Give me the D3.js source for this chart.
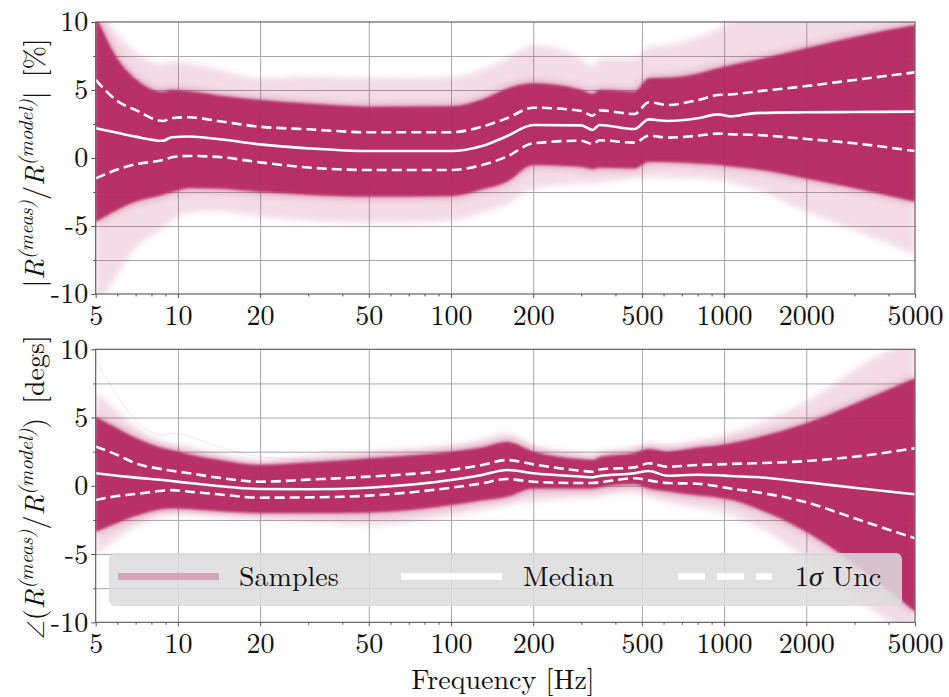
<!DOCTYPE html>
<html>
<head>
<meta charset="utf-8">
<script src="https://cdn.jsdelivr.net/npm/d3@7"></script>
</head>
<body style="margin:0;padding:0;background:#fff">
<svg id="chart" width="949" height="697" style="display:block"></svg>
<script>
// ---------------- DATA ----------------
const freq = [5, 6, 7, 8.8, 9.5, 11, 14, 20, 30, 50, 100, 130, 160, 200, 300, 330, 350, 470, 530, 620, 800, 950, 1050, 1300, 2000, 3000, 5000];

// Top panel: |R_meas / R_model| [%]
const magMedian  = [2.18, 1.85, 1.57, 1.27, 1.52, 1.58, 1.40, 1.00, 0.71, 0.51, 0.51, 0.88, 1.60, 2.43, 2.40, 2.06, 2.43, 2.13, 2.84, 2.72, 2.92, 3.21, 3.06, 3.30, 3.36, 3.38, 3.41];
const magUpper   = [5.74, 4.19, 3.53, 2.72, 2.94, 3.00, 2.72, 2.30, 2.11, 1.89, 1.89, 2.30, 2.92, 3.70, 3.46, 3.11, 3.50, 3.24, 4.10, 3.90, 4.26, 4.63, 4.67, 4.88, 5.29, 5.74, 6.30];
const magLower   = [-1.50, -0.85, -0.46, -0.15, 0.05, 0.15, 0.08, -0.32, -0.70, -0.88, -0.88, -0.51, 0.10, 1.08, 1.27, 1.03, 1.30, 1.13, 1.64, 1.50, 1.64, 1.79, 1.75, 1.70, 1.40, 1.08, 0.51];
const magDenseHi = [10.5, 7.3, 5.8, 4.85, 5.0, 4.9, 4.6, 4.26, 4.0, 3.77, 3.8, 4.3, 5.1, 5.49, 5.0, 4.7, 5.0, 4.88, 5.86, 5.9, 6.2, 6.6, 6.8, 7.2, 8.07, 8.9, 9.78];
const magDenseLo = [-4.7, -3.8, -3.2, -2.7, -2.5, -2.2, -2.25, -2.48, -2.7, -2.84, -2.8, -2.3, -1.74, -0.51, -0.65, -0.8, -0.7, -0.76, -0.27, -0.3, -0.4, -0.5, -0.6, -0.8, -1.5, -2.2, -3.21];
const magFaintHi = [11, 9.2, 7.8, 6.9, 7.1, 7.0, 6.5, 5.86, 6.0, 5.86, 5.95, 6.5, 7.3, 8.3, 7.3, 6.7, 7.3, 7.33, 8.2, 8.3, 8.9, 9.5, 10, 10.5, 11, 11, 11];
const magFaintLo = [-11, -8.6, -6.6, -5.2, -4.6, -4.0, -3.9, -4.32, -4.6, -4.8, -4.6, -4.0, -3.4, -2.23, -1.9, -1.9, -1.8, -1.5, -1.4, -1.45, -1.5, -1.6, -1.8, -2.3, -3.95, -5.3, -7.1];

// Bottom panel: angle(R_meas / R_model) [degs]
const phMedian  = [0.92, 0.74, 0.60, 0.42, 0.35, 0.20, -0.01, -0.23, -0.25, -0.14, 0.42, 0.79, 1.16, 0.92, 0.67, 0.62, 0.72, 0.92, 1.08, 0.74, 0.81, 0.77, 0.72, 0.64, 0.26, -0.14, -0.62];
const phUpper   = [2.87, 2.26, 1.65, 1.21, 1.10, 0.92, 0.60, 0.30, 0.45, 0.67, 1.16, 1.52, 1.89, 1.57, 1.10, 1.03, 1.20, 1.35, 1.65, 1.40, 1.52, 1.57, 1.60, 1.65, 1.81, 2.13, 2.75];
const phLower   = [-1.04, -0.75, -0.60, -0.36, -0.32, -0.43, -0.62, -0.87, -0.85, -0.72, -0.14, 0.18, 0.50, 0.30, 0.20, 0.20, 0.25, 0.55, 0.40, 0.20, 0.15, -0.05, -0.20, -0.45, -1.21, -2.38, -3.85];
const phDenseHi = [5.06, 4.2, 3.5, 2.75, 2.6, 2.3, 1.9, 1.52, 1.7, 2.0, 2.5, 2.8, 3.2, 2.5, 1.95, 1.89, 2.1, 2.4, 2.7, 2.5, 2.8, 2.95, 3.1, 3.5, 4.58, 6.0, 7.88];
const phDenseLo = [-3.36, -2.7, -2.2, -1.7, -1.65, -1.7, -1.85, -2.0, -2.0, -1.95, -1.4, -1.05, -0.8, -0.19, -0.2, -0.2, -0.1, 0.13, -0.2, -0.4, -0.7, -0.85, -1.0, -1.6, -3.36, -5.7, -9.22];
const phFaintHi = [6.9, 5.5, 4.3, 3.2, 3.1, 2.8, 2.3, 1.77, 2.1, 2.5, 3.0, 3.4, 3.85, 3.0, 2.3, 2.1, 2.4, 2.8, 3.1, 3.0, 3.3, 3.6, 3.9, 4.5, 6.16, 8.5, 11];
const phFaintLo = [-5.07, -3.85, -3.0, -2.2, -2.1, -2.1, -2.2, -2.38, -2.6, -2.87, -2.2, -1.8, -1.4, -1.16, -0.9, -0.9, -0.8, -0.5, -0.8, -1.2, -1.6, -1.9, -2.14, -2.9, -5.3, -8.2, -11];
const phOutlierFreq = [5, 6, 7, 8.8, 9.5, 11, 14, 20, 30];
const phOutlier     = [9.2, 6.6, 4.8, 3.7, 3.85, 3.6, 2.87, 2.13, 1.9];

// Ticks
const xMajorTicks = [5, 10, 20, 50, 100, 200, 500, 1000, 2000, 5000];
const xMinorTicks = [6, 7, 8, 9, 30, 40, 60, 70, 80, 90, 300, 400, 600, 700, 800, 900, 3000, 4000];
const yMajorTicks = [-10, -5, 0, 5, 10];
const yMinorTicks = [-7.5, -2.5, 2.5, 7.5];
const yGridTicks  = [-7.5, -5, -2.5, 0, 2.5, 5, 7.5];
const xGridTicks  = [10, 20, 50, 100, 200, 500, 1000, 2000];

const legendLabels = ["Samples", "Median", "1σ Unc"];

// ---------------- STYLE ----------------
const FONT = '"Latin Modern Roman", "CMU Serif", "Liberation Serif", serif';
const SYMFONT = '"Latin Modern Math", "DejaVu Serif", serif';
const sampleColor = "#b52a62";
const legendSampleColor = "#d4a4b8";
const gridColor = "#a8a8a8";
const spineColor = "#555";
const fontSize = 28;

const svg = d3.select("#chart");
const left = 95.7, right = 915;
const panels = [
  { top: 22, bottom: 294, med: magMedian, up: magUpper, lo: magLower,
    dHi: magDenseHi, dLo: magDenseLo, fHi: magFaintHi, fLo: magFaintLo, id: "p0" },
  { top: 349.3, bottom: 622.3, med: phMedian, up: phUpper, lo: phLower,
    dHi: phDenseHi, dLo: phDenseLo, fHi: phFaintHi, fLo: phFaintLo, id: "p1",
    outlier: { f: phOutlierFreq, v: phOutlier } }
];

const x = d3.scaleLog().domain([5, 5000]).range([left, right]);

const defs = svg.append("defs");
function blur(id, sd) {
  defs.append("filter").attr("id", id).attr("x", "-5%").attr("y", "-20%").attr("width", "110%").attr("height", "140%")
    .append("feGaussianBlur").attr("stdDeviation", sd);
}
blur("blurS", 1.2); blur("blurM", 4); blur("blurL", 3);

panels.forEach((p) => {
  const y = d3.scaleLinear().domain([-10, 10]).range([p.bottom, p.top]);
  const h = p.bottom - p.top;
  const g = svg.append("g");

  defs.append("clipPath").attr("id", "clip-" + p.id)
    .append("rect").attr("x", left).attr("y", p.top).attr("width", right - left).attr("height", h);

  // grid
  g.append("g").attr("transform", `translate(0,${p.bottom})`)
    .call(d3.axisBottom(x).tickValues(xGridTicks).tickSize(-h).tickFormat(""))
    .call(a => { a.select(".domain").remove(); a.selectAll("line").attr("stroke", gridColor).attr("stroke-width", 1); });
  g.append("g").attr("transform", `translate(${left},0)`)
    .call(d3.axisLeft(y).tickValues(yGridTicks).tickSize(-(right - left)).tickFormat(""))
    .call(a => { a.select(".domain").remove(); a.selectAll("line").attr("stroke", gridColor).attr("stroke-width", 1); });

  const idx = d3.range(freq.length);
  const area = (hi, lo) => d3.area().x(i => x(freq[i])).y0(i => y(lo[i])).y1(i => y(hi[i])).curve(d3.curveMonotoneX)(idx);
  const line = (vals, fs) => d3.line().x((d, i) => x(fs[i])).y(d => y(d)).curve(d3.curveMonotoneX)(vals);

  const clipG = g.append("g").attr("clip-path", `url(#clip-${p.id})`);

  // samples envelope
  clipG.append("path").attr("d", area(p.fHi, p.fLo)).attr("fill", sampleColor)
    .attr("opacity", 0.16).attr("filter", "url(#blurL)");
  clipG.append("path").attr("d", area(p.dHi, p.dLo)).attr("fill", sampleColor)
    .attr("opacity", 0.55).attr("filter", "url(#blurM)");
  clipG.append("path").attr("d", area(p.dHi, p.dLo)).attr("fill", sampleColor)
    .attr("opacity", 0.93).attr("filter", "url(#blurS)");
  if (p.outlier) {
    clipG.append("path").attr("d", line(p.outlier.v, p.outlier.f)).attr("fill", "none")
      .attr("stroke", sampleColor).attr("stroke-width", 1).attr("opacity", 0.12);
  }

  // median + sigma
  clipG.append("path").attr("d", line(p.med, freq)).attr("fill", "none")
    .attr("stroke", "#fff").attr("stroke-width", 2.6);
  [p.up, p.lo].forEach(s => {
    clipG.append("path").attr("d", line(s, freq)).attr("fill", "none")
      .attr("stroke", "#fff").attr("stroke-width", 2.6).attr("stroke-dasharray", "10,5");
  });

  // spines
  g.append("rect").attr("x", left).attr("y", p.top).attr("width", right - left).attr("height", h)
    .attr("fill", "none").attr("stroke", spineColor).attr("stroke-width", 1.1);

  // x axis
  const xa = g.append("g").attr("transform", `translate(0,${p.bottom})`)
    .call(d3.axisBottom(x).tickValues(xMajorTicks).tickSize(4).tickPadding(7).tickFormat(d3.format("d")));
  xa.select(".domain").remove();
  xa.selectAll("line").attr("stroke", spineColor);
  xa.selectAll("text").attr("font-size", fontSize).attr("fill", "#111");
  const xm = g.append("g").attr("transform", `translate(0,${p.bottom})`)
    .call(d3.axisBottom(x).tickValues(xMinorTicks).tickSize(2.5).tickFormat(""));
  xm.select(".domain").remove();
  xm.selectAll("line").attr("stroke", spineColor);

  // y axis
  const ya = g.append("g").attr("transform", `translate(${left},0)`)
    .call(d3.axisLeft(y).tickValues(yMajorTicks).tickSize(4.5).tickPadding(3).tickFormat(d => String(d)));
  ya.select(".domain").remove();
  ya.selectAll("line").attr("stroke", spineColor);
  ya.selectAll("text").attr("font-size", fontSize).attr("fill", "#111");
  const ym = g.append("g").attr("transform", `translate(${left},0)`)
    .call(d3.axisLeft(y).tickValues(yMinorTicks).tickSize(2.5).tickFormat(""));
  ym.select(".domain").remove();
  ym.selectAll("line").attr("stroke", spineColor);
});

// fonts on every text so far
svg.selectAll("text").style("font-family", FONT).style("fill", "#111");

// y labels
function yLabel(cx, cy, parts) {
  const t = svg.append("text").attr("transform", `translate(${cx},${cy}) rotate(-90)`)
    .attr("text-anchor", "middle").attr("font-size", fontSize)
    .style("font-family", FONT).style("fill", "#111");
  parts.forEach(pt => {
    const s = t.append("tspan").text(pt.t);
    if (pt.i) s.style("font-style", "italic");
    if (pt.sym) s.style("font-family", SYMFONT).style("font-weight", "normal").attr("font-size", 24);
    if (pt.sup) s.attr("font-size", 20).attr("dy", -11);
    if (pt.down) s.attr("dy", 11);
  });
}
yLabel(44, 163, [
  { t: "|" }, { t: "R", i: true }, { t: "(meas)", i: true, sup: true },
  { t: "/", down: true }, { t: "R", i: true }, { t: "(model)", i: true, sup: true },
  { t: "|", down: true }, { t: "\u00a0[%]" }
]);
yLabel(44, 487, [
  { t: "\u2220", sym: true }, { t: "(" }, { t: "R", i: true }, { t: "(meas)", i: true, sup: true },
  { t: "/", down: true }, { t: "R", i: true }, { t: "(model)", i: true, sup: true },
  { t: ")", down: true }, { t: "\u00a0[degs]" }
]);

// x label
svg.append("text").attr("x", 503).attr("y", 689).attr("text-anchor", "middle")
  .attr("font-size", fontSize).style("font-family", FONT).style("fill", "#111").text("Frequency [Hz]");

// legend
const lg = svg.append("g");
lg.append("rect").attr("x", 109).attr("y", 553).attr("width", 793).attr("height", 53).attr("rx", 6)
  .attr("fill", "#dcdcdc").attr("opacity", 0.85);
const ly = 576.5;
const legText = (xx, txt) => lg.append("text").attr("x", xx).attr("y", 586).attr("font-size", fontSize)
  .style("font-family", FONT).style("fill", "#111").text(txt);
lg.append("line").attr("x1", 118).attr("x2", 219).attr("y1", ly).attr("y2", ly)
  .attr("stroke", legendSampleColor).attr("stroke-width", 7);
legText(239, legendLabels[0]);
lg.append("line").attr("x1", 401).attr("x2", 502).attr("y1", ly).attr("y2", ly)
  .attr("stroke", "#fff").attr("stroke-width", 6.5);
legText(523, legendLabels[1]);
lg.append("line").attr("x1", 678).attr("x2", 772).attr("y1", ly).attr("y2", ly)
  .attr("stroke", "#fff").attr("stroke-width", 6.5).attr("stroke-dasharray", "27,12");
const t3 = legText(795, "");
t3.append("tspan").text("1");
t3.append("tspan").style("font-style", "italic").text("σ");
t3.append("tspan").text(" Unc");

svg.selectAll("g").attr("font-family", null);
</script>
</body>
</html>
